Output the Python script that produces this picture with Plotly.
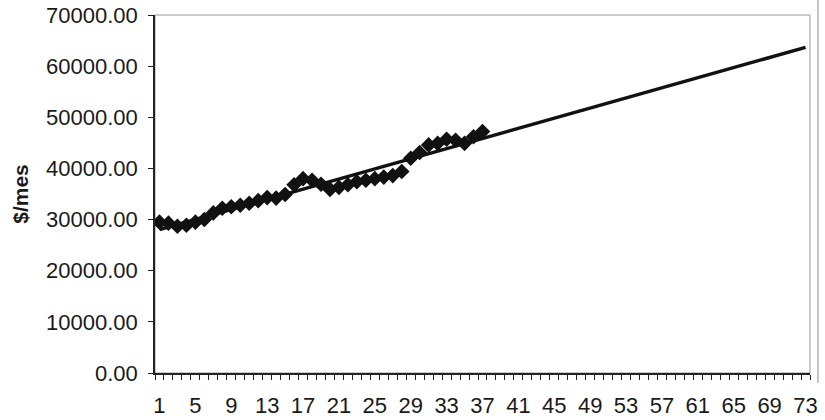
import numpy as np
import plotly.graph_objects as go

months = list(range(1, 38))
values = [29500, 29300, 28700, 28900, 29500, 30000, 31300, 32200, 32500, 32800,
          33200, 33700, 34300, 34200, 34900, 36800, 38000, 37700, 36900, 35900,
          36300, 36800, 37400, 37700, 38000, 38300, 38600, 39400, 42000, 43100,
          44600, 44900, 45700, 45500, 44900, 46200, 47200]
trend_months = list(range(1, 74))
tick_labels = list(range(1, 74, 4))

# linear trend (least squares) extended to month 73
coef = np.polyfit(months, values, 1)
trend_vals = np.polyval(coef, trend_months)

fig = go.Figure()
fig.add_trace(go.Scatter(x=trend_months, y=trend_vals, mode="lines",
                         line=dict(color="#111111", width=3.5), showlegend=False,
                         hoverinfo="skip"))
fig.add_trace(go.Scatter(x=months, y=values, mode="markers",
                         marker=dict(symbol="diamond", size=12, color="#111111"),
                         showlegend=False))

font = dict(family="Liberation Sans, Arial, sans-serif", size=22, color="#1a1a1a")

fig.update_layout(
    width=825, height=420,
    margin=dict(l=155, r=15, t=15, b=47),
    paper_bgcolor="white", plot_bgcolor="white",
    font=font,
    xaxis=dict(range=[0.5, 73.5], tickmode="array", tickvals=tick_labels,
               ticktext=[str(t) for t in tick_labels], ticks="", showgrid=False,
               zeroline=False, showline=True, linecolor="#222222", linewidth=1.5,
               ticklabelstandoff=12, automargin=False,
               minor=dict(tickmode="array", tickvals=list(np.arange(0.5, 74, 1)),
                          ticks="outside", ticklen=5, tickcolor="#222222",
                          tickwidth=1, showgrid=False)),
    yaxis=dict(range=[0, 70000], dtick=10000, tickformat=".2f", ticks="outside",
               ticklen=5, tickcolor="#222222", showgrid=False, zeroline=False,
               showline=True, linecolor="#222222", linewidth=1.5, automargin=False,
               ticklabelstandoff=6,
               title=dict(text="<b>$/mes</b>", font=dict(size=21), standoff=12)),
    shapes=[
        dict(type="rect", xref="paper", yref="paper", x0=0, x1=1, y0=0, y1=1,
             line=dict(color="#999999", width=1), layer="below"),
        dict(type="line", xref="paper", yref="paper", x0=1.0122, x1=1.0122,
             y0=-0.028, y1=1.042, line=dict(color="#888888", width=1)),
    ],
)

fig.write_html("out.html", config={"displayModeBar": False},
               post_script="document.body.style.margin='0';")
